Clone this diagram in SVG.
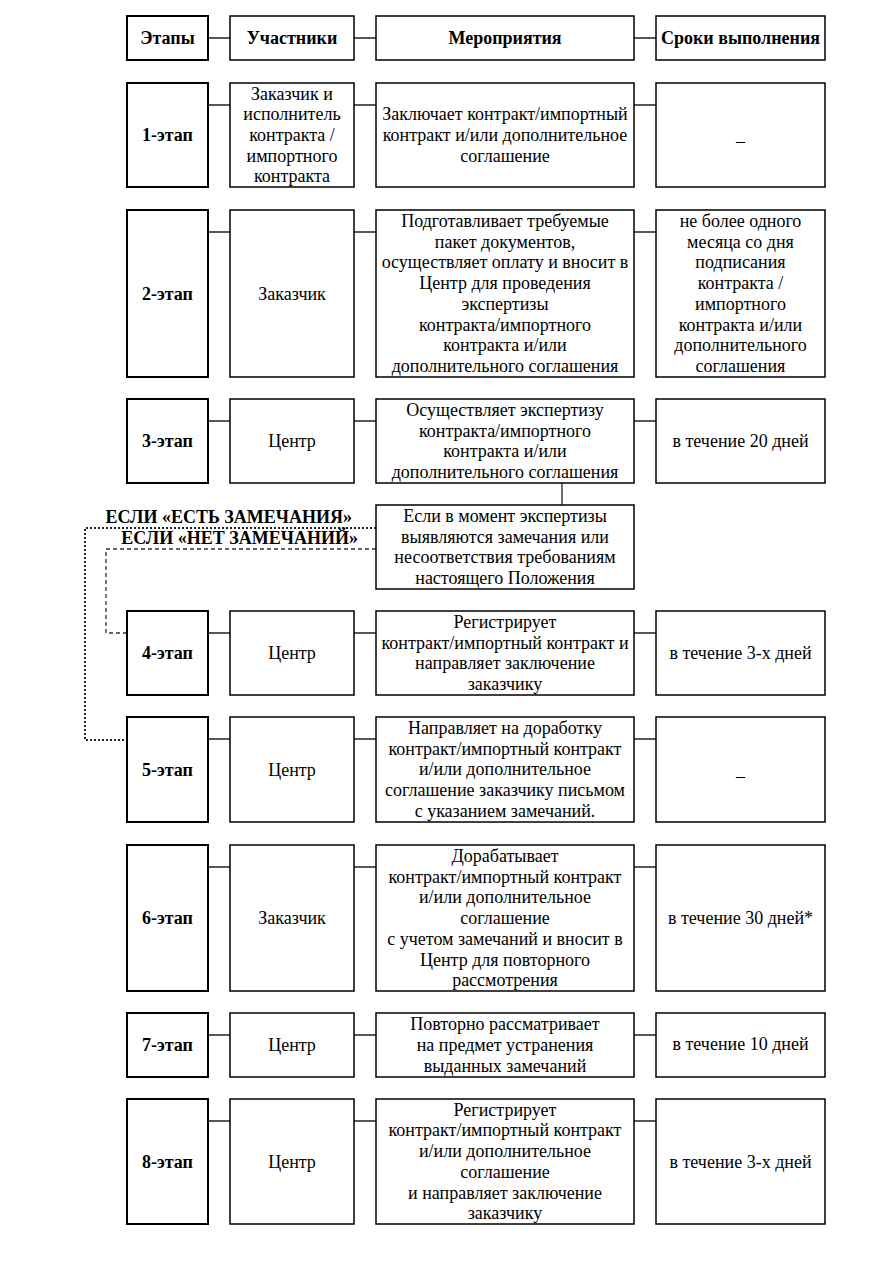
<svg xmlns="http://www.w3.org/2000/svg" width="886" height="1268" viewBox="0 0 886 1268">
<style>
.box{fill:#fff;stroke:#000;stroke-width:1.5}
.stg{fill:#fff;stroke:#000;stroke-width:2}
.t{font-family:"Liberation Serif","Times New Roman",serif;font-size:18px;fill:#000;text-anchor:middle}
.b{font-weight:bold}
.c{stroke:#222;stroke-width:1.3;fill:none}
.dot{stroke:#222;stroke-width:2;fill:none;stroke-dasharray:2 2}
.dash{stroke:#333;stroke-width:1.3;fill:none;stroke-dasharray:4 3}
</style>
<rect width="886" height="1268" fill="#fff"/>
<g id="connectors">
<path class="c" d="M208 38H230M354 38H376M634 38H656"/>
<path class="c" d="M208 105H230M354 105H376M634 105H656"/>
<path class="c" d="M208 232H230M354 232H376M634 232H656"/>
<path class="c" d="M208 421H230M354 421H376M634 421H656"/>
<path class="c" d="M562 483V505"/>
<path class="c" d="M208 633H230M354 633H376M634 633H656"/>
<path class="c" d="M208 739H230M354 739H376M634 739H656"/>
<path class="c" d="M208 867H230M354 867H376M634 867H656"/>
<path class="c" d="M208 1035H230M354 1035H376M634 1035H656"/>
<path class="c" d="M208 1121H230M354 1121H376M634 1121H656"/>
<path class="dot" d="M376 528H85V740H127"/>
<path class="dash" d="M376 549H106V633H127"/>
<text class="t b" x="352" y="523" style="text-anchor:end">ЕСЛИ «ЕСТЬ ЗАМЕЧАНИЯ»</text>
<text class="t b" x="358" y="544" style="text-anchor:end">ЕСЛИ «НЕТ ЗАМЕЧАНИЙ»</text>
</g>
<g id="header">
<rect class="stg" x="127" y="16" width="81" height="44"/>
<rect class="box" x="230" y="16" width="124" height="44"/>
<rect class="box" x="376" y="16" width="258" height="44"/>
<rect class="box" x="656" y="16" width="169" height="44"/>
<text class="t b" x="167.5" y="44">Этапы</text>
<text class="t b" x="292" y="44">Участники</text>
<text class="t b" x="505" y="44">Мероприятия</text>
<text class="t b" x="740.5" y="44">Сроки выполнения</text>
</g>
<g id="row1">
<rect class="stg" x="127" y="83" width="81" height="104"/>
<rect class="box" x="230" y="83" width="124" height="104"/>
<rect class="box" x="376" y="83" width="258" height="104"/>
<rect class="box" x="656" y="83" width="169" height="104"/>
<text class="t b" x="167.5" y="141">1-этап</text>
<text class="t" x="292" y="99.6">Заказчик и<tspan x="292" dy="20.7">исполнитель</tspan><tspan x="292" dy="20.7">контракта /</tspan><tspan x="292" dy="20.7">импортного</tspan><tspan x="292" dy="20.7">контракта</tspan></text>
<text class="t" x="505" y="120.3">Заключает контракт/импортный<tspan x="505" dy="20.7">контракт и/или дополнительное</tspan><tspan x="505" dy="20.7">соглашение</tspan></text>
<text class="t" x="740.5" y="141">_</text>
</g>
<g id="row2">
<rect class="stg" x="127" y="210" width="81" height="167"/>
<rect class="box" x="230" y="210" width="124" height="167"/>
<rect class="box" x="376" y="210" width="258" height="167"/>
<rect class="box" x="656" y="210" width="169" height="167"/>
<text class="t b" x="167.5" y="299.5">2-этап</text>
<text class="t" x="292" y="299.5">Заказчик</text>
<text class="t" x="505" y="227">Подготавливает требуемые<tspan x="505" dy="20.7">пакет документов,</tspan><tspan x="505" dy="20.7">осуществляет оплату и вносит в</tspan><tspan x="505" dy="20.7">Центр для проведения</tspan><tspan x="505" dy="20.7">экспертизы</tspan><tspan x="505" dy="20.7">контракта/импортного</tspan><tspan x="505" dy="20.7">контракта и/или</tspan><tspan x="505" dy="20.7">дополнительного соглашения</tspan></text>
<text class="t" x="740.5" y="227">не более одного<tspan x="740.5" dy="20.7">месяца со дня</tspan><tspan x="740.5" dy="20.7">подписания</tspan><tspan x="740.5" dy="20.7">контракта /</tspan><tspan x="740.5" dy="20.7">импортного</tspan><tspan x="740.5" dy="20.7">контракта и/или</tspan><tspan x="740.5" dy="20.7">дополнительного</tspan><tspan x="740.5" dy="20.7">соглашения</tspan></text>
</g>
<g id="row3">
<rect class="stg" x="127" y="399" width="81" height="84"/>
<rect class="box" x="230" y="399" width="124" height="84"/>
<rect class="box" x="376" y="399" width="258" height="84"/>
<rect class="box" x="656" y="399" width="169" height="84"/>
<text class="t b" x="167.5" y="447">3-этап</text>
<text class="t" x="292" y="447">Центр</text>
<text class="t" x="505" y="416">Осуществляет экспертизу<tspan x="505" dy="20.7">контракта/импортного</tspan><tspan x="505" dy="20.7">контракта и/или</tspan><tspan x="505" dy="20.7">дополнительного соглашения</tspan></text>
<text class="t" x="740.5" y="447">в течение 20 дней</text>
</g>
<g id="condition">
<rect class="box" x="376" y="505" width="258" height="84"/>
<text class="t" x="505" y="522">Если в момент экспертизы<tspan x="505" dy="20.7">выявляются замечания или</tspan><tspan x="505" dy="20.7">несоответствия требованиям</tspan><tspan x="505" dy="20.7">настоящего Положения</tspan></text>
</g>
<g id="row4">
<rect class="stg" x="127" y="611" width="81" height="84"/>
<rect class="box" x="230" y="611" width="124" height="84"/>
<rect class="box" x="376" y="611" width="258" height="84"/>
<rect class="box" x="656" y="611" width="169" height="84"/>
<text class="t b" x="167.5" y="659">4-этап</text>
<text class="t" x="292" y="659">Центр</text>
<text class="t" x="505" y="628">Регистрирует<tspan x="505" dy="20.7">контракт/импортный контракт и</tspan><tspan x="505" dy="20.7">направляет заключение</tspan><tspan x="505" dy="20.7">заказчику</tspan></text>
<text class="t" x="740.5" y="659">в течение 3-х дней</text>
</g>
<g id="row5">
<rect class="stg" x="127" y="717" width="81" height="105"/>
<rect class="box" x="230" y="717" width="124" height="105"/>
<rect class="box" x="376" y="717" width="258" height="105"/>
<rect class="box" x="656" y="717" width="169" height="105"/>
<text class="t b" x="167.5" y="775.5">5-этап</text>
<text class="t" x="292" y="775.5">Центр</text>
<text class="t" x="505" y="734">Направляет на доработку<tspan x="505" dy="20.7">контракт/импортный контракт</tspan><tspan x="505" dy="20.7">и/или дополнительное</tspan><tspan x="505" dy="20.7">соглашение заказчику письмом</tspan><tspan x="505" dy="20.7">с указанием замечаний.</tspan></text>
<text class="t" x="740.5" y="775.5">_</text>
</g>
<g id="row6">
<rect class="stg" x="127" y="845" width="81" height="146"/>
<rect class="box" x="230" y="845" width="124" height="146"/>
<rect class="box" x="376" y="845" width="258" height="146"/>
<rect class="box" x="656" y="845" width="169" height="146"/>
<text class="t b" x="167.5" y="924">6-этап</text>
<text class="t" x="292" y="924">Заказчик</text>
<text class="t" x="505" y="862">Дорабатывает<tspan x="505" dy="20.7">контракт/импортный контракт</tspan><tspan x="505" dy="20.7">и/или дополнительное</tspan><tspan x="505" dy="20.7">соглашение</tspan><tspan x="505" dy="20.7">с учетом замечаний и вносит в</tspan><tspan x="505" dy="20.7">Центр для повторного</tspan><tspan x="505" dy="20.7">рассмотрения</tspan></text>
<text class="t" x="740.5" y="924">в течение 30 дней*</text>
</g>
<g id="row7">
<rect class="stg" x="127" y="1013" width="81" height="64"/>
<rect class="box" x="230" y="1013" width="124" height="64"/>
<rect class="box" x="376" y="1013" width="258" height="64"/>
<rect class="box" x="656" y="1013" width="169" height="64"/>
<text class="t b" x="167.5" y="1051">7-этап</text>
<text class="t" x="292" y="1051">Центр</text>
<text class="t" x="505" y="1030.3">Повторно рассматривает<tspan x="505" dy="20.7">на предмет устранения</tspan><tspan x="505" dy="20.7">выданных замечаний</tspan></text>
<text class="t" x="740.5" y="1050">в течение 10 дней</text>
</g>
<g id="row8">
<rect class="stg" x="127" y="1099" width="81" height="125"/>
<rect class="box" x="230" y="1099" width="124" height="125"/>
<rect class="box" x="376" y="1099" width="258" height="125"/>
<rect class="box" x="656" y="1099" width="169" height="125"/>
<text class="t b" x="167.5" y="1167.5">8-этап</text>
<text class="t" x="292" y="1167.5">Центр</text>
<text class="t" x="505" y="1115.75">Регистрирует<tspan x="505" dy="20.7">контракт/импортный контракт</tspan><tspan x="505" dy="20.7">и/или дополнительное</tspan><tspan x="505" dy="20.7">соглашение</tspan><tspan x="505" dy="20.7">и направляет заключение</tspan><tspan x="505" dy="20.7">заказчику</tspan></text>
<text class="t" x="740.5" y="1167.5">в течение 3-х дней</text>
</g>
</svg>
